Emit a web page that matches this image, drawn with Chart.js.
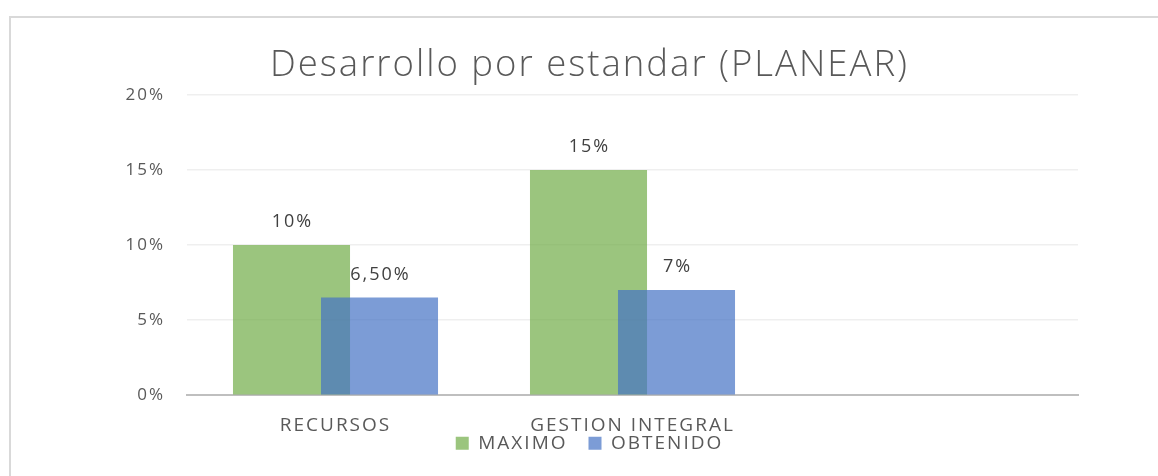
<!DOCTYPE html>
<html>
<head>
<meta charset="utf-8">
<script src="https://cdn.jsdelivr.net/npm/chart.js@4.4.1/dist/chart.umd.min.js"></script>
<style>
  html, body { margin: 0; padding: 0; background: #fff; overflow: hidden; }
  #frame { position: absolute; left: 9px; top: 16px; width: 1200px; height: 500px;
           border-left: 2px solid #d9d9d9; border-top: 2px solid #d9d9d9; }
  #wrap { position: absolute; left: 0; top: 0; width: 1158px; height: 476px; }
</style>
</head>
<body>
<div id="frame"></div>
<div id="wrap"><canvas id="c" width="1158" height="476"></canvas></div>
<script>
const categories = ['RECURSOS', 'GESTION INTEGRAL', ''];
const maximoValues = [10, 15, null];
const obtenidoValues = [6.5, 7, null];
const maximoLabels = ['10%', '15%', ''];
const obtenidoLabels = ['6,50%', '7%', ''];
const yTicks = [0, 5, 10, 15, 20];
const titleText = 'Desarrollo por estandar (PLANEAR)';

const FONT = "'Open Sans', 'Noto Sans', sans-serif";
const TXT = '#595959';
const LS = '2px';

const spacing = {
  id: 'spacing',
  beforeInit(chart) { chart.ctx.letterSpacing = LS; },
  beforeUpdate(chart) { chart.ctx.letterSpacing = LS; },
  beforeLayout(chart) { chart.ctx.letterSpacing = LS; },
  afterLayout(chart) {
    // legend sits just under the category labels
    const lg = chart.legend;
    const h = lg.height;
    lg.top = chart.chartArea.bottom + 17.5;
    lg.bottom = lg.top + h;
  },
  beforeDraw(chart) { chart.ctx.letterSpacing = LS; }
};

// draw the OBTENIDO series on top of MAXIMO, then the value labels
const overlay = {
  id: 'overlay',
  beforeDatasetDraw(chart, args) {
    if (args.index === 1 && !chart.$drawingTop) return false;
  },
  afterDatasetsDraw(chart) {
    const ctx = chart.ctx;
    chart.$drawingTop = true;
    ctx.save();
    chart.getDatasetMeta(1).controller.draw();
    ctx.restore();
    chart.$drawingTop = false;

    const sets = [maximoLabels, obtenidoLabels];
    ctx.save();
    ctx.letterSpacing = LS;
    ctx.font = '18px ' + FONT;
    ctx.fillStyle = '#404040';
    ctx.textAlign = 'center';
    ctx.textBaseline = 'bottom';
    sets.forEach((labels, di) => {
      chart.getDatasetMeta(di).data.forEach((bar, i) => {
        if (!labels[i]) return;
        ctx.fillText(labels[i], bar.x + 1, bar.y - 14);
      });
    });
    ctx.restore();
  }
};

new Chart(document.getElementById('c'), {
  type: 'bar',
  data: {
    labels: categories,
    datasets: [
      { label: 'MAXIMO', data: maximoValues, backgroundColor: 'rgba(112,173,71,0.7)', borderWidth: 0 },
      { label: 'OBTENIDO', data: obtenidoValues, backgroundColor: 'rgba(68,114,196,0.7)', borderWidth: 0 }
    ]
  },
  options: {
    responsive: false,
    animation: false,
    categoryPercentage: 0.5926,
    barPercentage: 1.33,
    layout: { padding: { left: 101, right: 80, top: 44, bottom: -30 } },
    plugins: {
      title: {
        display: true, text: titleText, color: TXT,
        font: { family: FONT, size: 36.5, weight: 300 },
        padding: { top: 0, bottom: 7 }
      },
      legend: {
        position: 'bottom',
        labels: {
          color: TXT, font: { family: FONT, size: 19 },
          boxWidth: 13, boxHeight: 13, padding: 21
        }
      },
      tooltip: { enabled: false }
    },
    scales: {
      x: {
        grid: { display: false, drawTicks: false, tickLength: 0 },
        border: { color: '#bfbfbf', width: 2 },
        ticks: { color: TXT, font: { family: FONT, size: 19 }, padding: 19 }
      },
      y: {
        min: 0, max: 20,
        afterBuildTicks(axis) { axis.ticks = yTicks.map(v => ({ value: v })); },
        afterFit(axis) { axis.width = 86; },
        grid: { color: '#efefef', lineWidth: 1.5, drawTicks: false },
        border: { display: false },
        ticks: { color: TXT, font: { family: FONT, size: 17 }, padding: 22,
                 callback: v => v + '%' }
      }
    }
  },
  plugins: [spacing, overlay]
});
</script>
</body>
</html>
